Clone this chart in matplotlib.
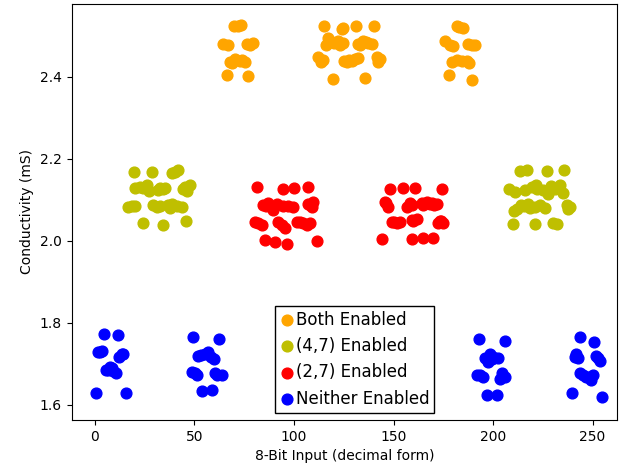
import matplotlib.pyplot as plt
import numpy as np

# Both Enabled (orange)
both_x = [70.0, 72.0, 73.4, 64.5, 67.0, 76.2, 77.9, 79.5, 67.8, 69.0, 70.4, 72.9, 74.0, 75.4, 66.2, 77.0,
          115.2, 124.0, 124.6, 131.2, 140.2,
          116.9, 115.9, 118.9, 120.1, 122.0, 123.1, 124.6, 132.3, 133.2, 134.8, 136.2, 137.3, 139.3,
          112.2, 113.6, 114.6, 125.3, 126.6, 127.6, 129.0, 130.7, 132.2, 141.6, 142.4, 143.2,
          119.7, 135.7,
          181.8, 183.1, 185.1, 175.9, 178.4, 179.7, 187.6, 189.3, 191.0, 179.2, 181.8, 184.3, 186.8, 188.1, 178.0, 189.3]
both_y = [2.524, 2.524, 2.525, 2.480, 2.478, 2.480, 2.477, 2.483, 2.436, 2.432, 2.444, 2.438, 2.440, 2.436, 2.403, 2.402,
          2.524, 2.516, 2.519, 2.524, 2.524,
          2.493, 2.477, 2.485, 2.482, 2.486, 2.478, 2.482, 2.480, 2.477, 2.486, 2.485, 2.483, 2.480,
          2.448, 2.436, 2.441, 2.438, 2.436, 2.440, 2.438, 2.442, 2.446, 2.448, 2.436, 2.443,
          2.395, 2.397,
          2.524, 2.522, 2.519, 2.486, 2.477, 2.475, 2.480, 2.477, 2.478, 2.436, 2.440, 2.438, 2.438, 2.432, 2.403, 2.391]

# (4,7) Enabled (olive)
b47_x = [19.6, 28.5, 38.5, 41.9, 40.0,
         20.1, 22.6, 26.0, 27.3, 31.8, 35.2, 32.7, 44.4, 47.7, 46.4, 24.1, 34.2, 45.2,
         16.7, 18.4, 29.3, 31.0, 36.8, 38.5, 41.1, 43.6, 37.7, 20.1, 32.7,
         24.0, 34.3, 45.7,
         213.6, 217.2, 227.0, 235.8,
         208.0, 211.1, 219.4, 222.3, 221.6, 227.8, 229.0, 231.2, 233.7, 235.0, 216.1, 225.1,
         212.2, 213.9, 217.7, 218.6, 223.6, 226.1, 237.0, 238.7, 237.8, 215.6, 221.1, 210.6,
         209.9, 221.1, 230.3, 232.0]
b47_y = [2.167, 2.168, 2.164, 2.172, 2.168,
         2.128, 2.132, 2.136, 2.121, 2.124, 2.129, 2.128, 2.126, 2.136, 2.121, 2.129, 2.126, 2.131,
         2.083, 2.085, 2.087, 2.083, 2.087, 2.089, 2.085, 2.083, 2.080, 2.085, 2.085,
         2.042, 2.038, 2.048,
         2.169, 2.172, 2.170, 2.173,
         2.125, 2.119, 2.131, 2.127, 2.135, 2.115, 2.133, 2.127, 2.137, 2.117, 2.124, 2.124,
         2.078, 2.086, 2.090, 2.080, 2.088, 2.080, 2.088, 2.082, 2.077, 2.085, 2.082, 2.073,
         2.041, 2.040, 2.044, 2.040]

# (2,7) Enabled (red)
b27_x = [81.3, 94.3, 100.2, 107.2,
         84.6, 87.1, 89.6, 91.3, 89.6, 97.1, 99.6, 108.0, 109.7, 108.9, 85.9, 94.5, 107.0,
         80.4, 83.8, 92.1, 93.8, 95.5, 101.4, 104.7, 106.4, 81.9, 103.0, 108.0,
         85.4, 90.5, 96.3, 111.4,
         148.2, 154.9, 160.8, 174.2,
         145.7, 147.4, 156.6, 158.3, 164.2, 166.7, 169.2, 171.7, 165.0, 168.3, 146.2, 159.3, 170.4,
         149.1, 151.6, 153.3, 159.1, 161.7, 172.5, 175.0, 173.9, 150.3, 159.8, 173.4,
         144.1, 159.1, 165.0, 170.0]
b27_y = [2.132, 2.126, 2.129, 2.130,
         2.087, 2.091, 2.083, 2.089, 2.075, 2.085, 2.083, 2.087, 2.095, 2.083, 2.085, 2.085, 2.090,
         2.046, 2.038, 2.046, 2.038, 2.032, 2.046, 2.042, 2.038, 2.043, 2.046, 2.043,
         2.002, 1.998, 1.991, 2.000,
         2.126, 2.128, 2.128, 2.126,
         2.095, 2.083, 2.083, 2.093, 2.091, 2.095, 2.091, 2.090, 2.087, 2.090, 2.092, 2.087, 2.087,
         2.046, 2.044, 2.046, 2.050, 2.052, 2.042, 2.042, 2.049, 2.046, 2.048, 2.048,
         2.004, 2.003, 2.006, 2.006]

# Neither Enabled (blue)
neither_x = [4.5, 11.7, 1.7, 2.7, 3.4, 13.4, 14.2, 12.2, 5.5, 6.7, 7.5, 8.4, 9.2, 10.6, 0.5, 15.6,
             49.4, 62.5, 51.9, 53.1, 55.3, 56.9, 58.1, 59.8, 48.6, 50.3, 51.1, 60.3, 61.2, 63.7, 53.6, 58.6,
             193.0, 206.0, 196.0, 197.6, 198.5, 199.3, 200.2, 202.7, 191.8, 193.5, 195.1, 204.4, 206.0, 203.5, 196.8, 202.2,
             243.7, 250.9, 241.2, 241.7, 242.6, 251.6, 252.6, 253.8, 243.7, 245.4, 246.6, 247.9, 249.2, 250.4, 239.8, 254.9]
neither_y = [1.772, 1.770, 1.729, 1.728, 1.732, 1.725, 1.725, 1.716, 1.686, 1.685, 1.693, 1.689, 1.683, 1.677, 1.629, 1.628,
             1.766, 1.760, 1.719, 1.721, 1.723, 1.729, 1.717, 1.711, 1.680, 1.678, 1.672, 1.677, 1.672, 1.672, 1.634, 1.636,
             1.760, 1.756, 1.713, 1.705, 1.723, 1.711, 1.717, 1.713, 1.672, 1.672, 1.668, 1.677, 1.668, 1.662, 1.624, 1.624,
             1.766, 1.754, 1.717, 1.725, 1.713, 1.719, 1.713, 1.707, 1.677, 1.672, 1.667, 1.668, 1.660, 1.672, 1.628, 1.618]

fig = plt.figure(figsize=(6.19, 4.74), dpi=100)
ax = fig.add_axes([0.1158, 0.1139, 0.8810, 0.8777])

ms = 60
ax.scatter(both_x, both_y, s=ms, c='orange', label='Both Enabled')
ax.scatter(b47_x, b47_y, s=ms, c='y', label='(4,7) Enabled')
ax.scatter(b27_x, b27_y, s=ms, c='r', label='(2,7) Enabled')
ax.scatter(neither_x, neither_y, s=ms, c='b', label='Neither Enabled')

ax.set_xlim(-11.7, 262.3)
ax.set_ylim(1.563, 2.577)
ax.set_xticks([0, 50, 100, 150, 200, 250])
ax.set_yticks([1.6, 1.8, 2.0, 2.2, 2.4])
ax.set_xlabel('8-Bit Input (decimal form)')
ax.set_ylabel('Conductivity (mS)')

leg = ax.legend(loc='lower center', bbox_to_anchor=(0.519, 0.0), fontsize=12,
                scatterpoints=1, fancybox=False, edgecolor='black',
                handletextpad=0.05, borderpad=0.3, labelspacing=0.5, handlelength=0.9,
                borderaxespad=0.45, framealpha=1)

fig.savefig('out.png', dpi=100)
